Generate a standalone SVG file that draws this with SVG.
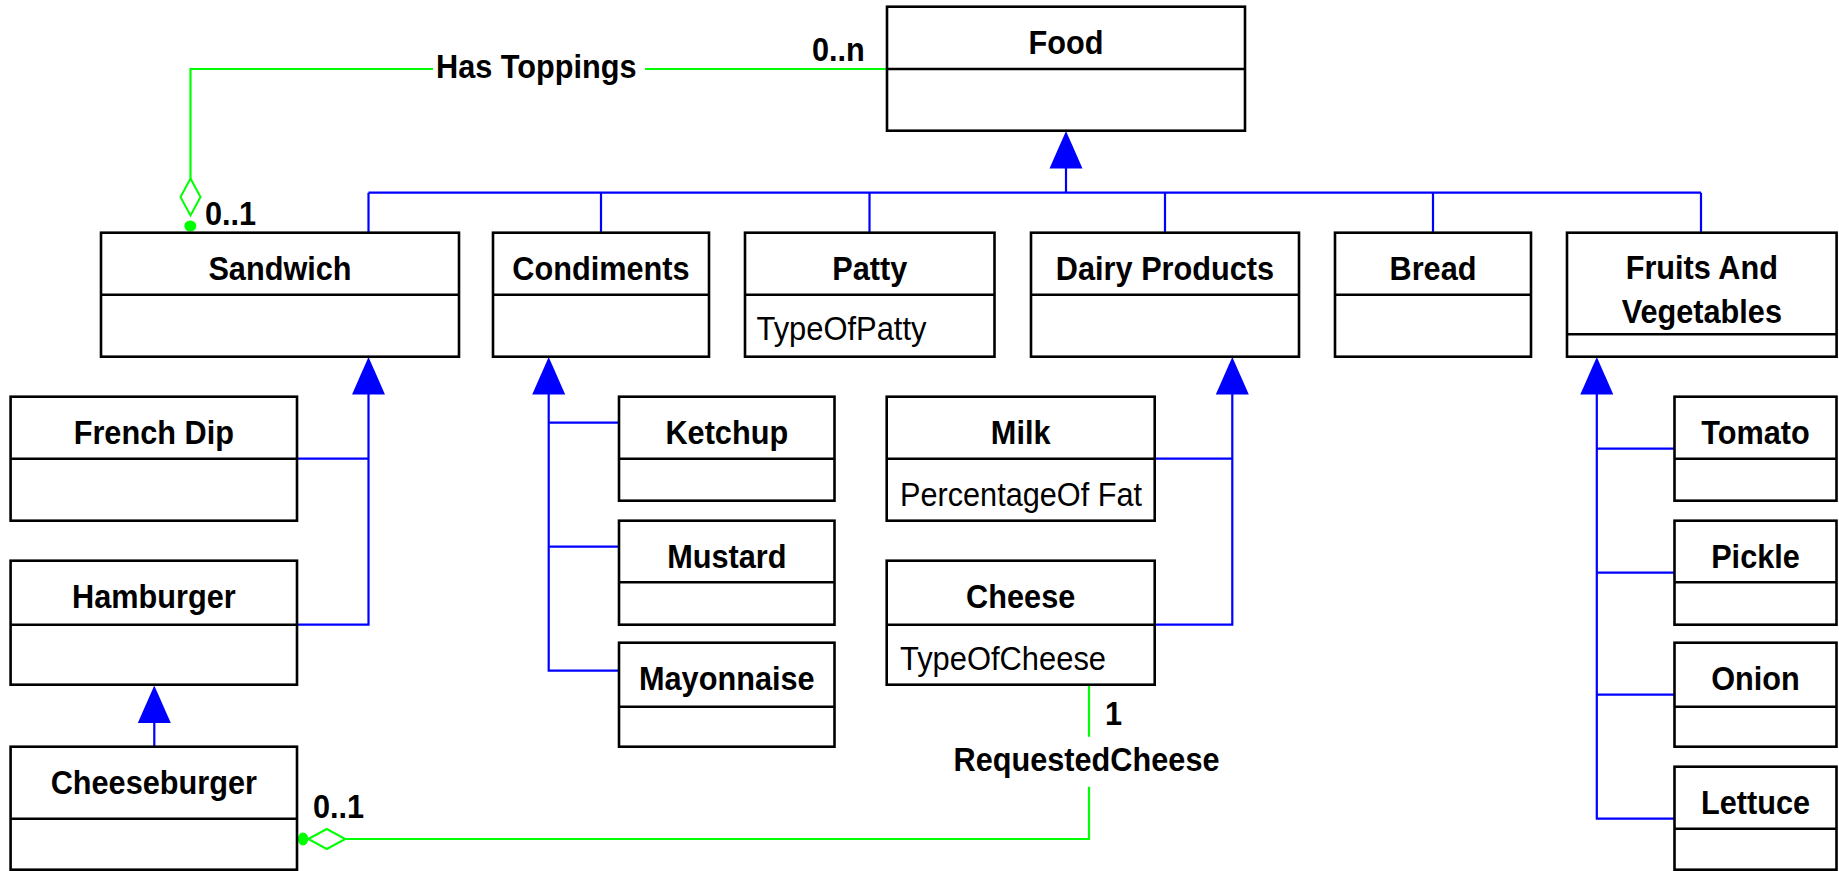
<svg xmlns="http://www.w3.org/2000/svg" xmlns:xlink="http://www.w3.org/1999/xlink" width="1839" height="871" viewBox="0 0 1839 871">
  <style>
    .box { fill: #ffffff; stroke: #000000; stroke-width: 2.6; }
    .sep { stroke: #000000; stroke-width: 2.6; }
    .gen { fill: none; stroke: #0000ff; stroke-width: 2.2; }
    .genhead { fill: #0000ff; stroke: none; }
    .assoc { fill: none; stroke: #00ff00; stroke-width: 2.2; }
    .diamond { fill: #ffffff; stroke: #00ff00; stroke-width: 2; }
    .dot { fill: #00ff00; stroke: none; }
    .t { font-family: "Liberation Sans", Arial, sans-serif; font-size: 33px; font-weight: bold; fill: #000000; text-anchor: middle; }
    .lbl { font-family: "Liberation Sans", Arial, sans-serif; font-size: 33px; font-weight: bold; fill: #000000; }
    .a { font-family: "Liberation Sans", Arial, sans-serif; font-size: 33px; fill: #000000; }
  </style>
  <defs>
    <!-- hollow-less generalization triangle, tip at origin pointing up -->
    <path id="tri" class="genhead" d="M0,0 L-16.5,37.5 L16.5,37.5 Z"/>
    <!-- aggregation diamond, tip at origin, body along +x -->
    <path id="dia" class="diamond" d="M0,0 L18.5,-10 L37,0 L18.5,10 Z"/>
  </defs>

  <!-- connectors -->
  <g id="connectors">
    <!-- Food generalization tree -->
    <use xlink:href="#tri" x="1066" y="131"/>
    <path class="gen" d="M1066,168 V192.7 M368.5,192.7 H1701 M368.5,192.7 V232.7 M601,192.7 V232.7 M869.5,192.7 V232.7 M1165,192.7 V232.7 M1433,192.7 V232.7 M1701,192.7 V232.7"/>

    <!-- Sandwich subclasses -->
    <use xlink:href="#tri" x="368.5" y="357"/>
    <path class="gen" d="M368.5,394 V624.7 H297 M368.5,458.7 H297"/>

    <!-- Hamburger -> Cheeseburger -->
    <use xlink:href="#tri" x="154.3" y="685.5"/>
    <path class="gen" d="M154.3,722 V746.7"/>

    <!-- Condiments subclasses -->
    <use xlink:href="#tri" x="548.7" y="357"/>
    <path class="gen" d="M548.7,394 V670.7 H619 M548.7,422.7 H619 M548.7,546.7 H619"/>

    <!-- Dairy Products subclasses -->
    <use xlink:href="#tri" x="1232.3" y="357"/>
    <path class="gen" d="M1232.3,394 V624.7 H1154.6 M1232.3,458.7 H1154.6"/>

    <!-- Fruits And Vegetables subclasses -->
    <use xlink:href="#tri" x="1596.8" y="357"/>
    <path class="gen" d="M1596.8,394 V818.7 H1674.5 M1596.8,448.7 H1674.5 M1596.8,572.7 H1674.5 M1596.8,694.7 H1674.5"/>

    <!-- Has Toppings association -->
    <path class="assoc" d="M190.5,178.5 V69 H433 M645,69 H887"/>
    <use xlink:href="#dia" transform="translate(190.5,178.5) rotate(90)"/>
    <ellipse class="dot" cx="190.3" cy="226" rx="6" ry="5.5"/>
    <text class="lbl" transform="translate(436,78) scale(0.93,1)">Has Toppings</text>
    <text class="lbl" transform="translate(812,61) scale(0.93,1)">0..n</text>
    <text class="lbl" transform="translate(205,224.5) scale(0.93,1)">0..1</text>

    <!-- RequestedCheese association -->
    <path class="assoc" d="M345,839 H1089 V786.7 M1089,736.7 V685"/>
    <use xlink:href="#dia" x="308.3" y="839"/>
    <ellipse class="dot" cx="303" cy="839" rx="5.3" ry="6.5"/>
    <text class="t" transform="translate(1086.5,771) scale(0.93,1)">RequestedCheese</text>
    <text class="lbl" transform="translate(1105,725) scale(0.93,1)">1</text>
    <text class="lbl" transform="translate(313,818.3) scale(0.93,1)">0..1</text>
  </g>

  <!-- top level -->
  <g id="food">
    <rect class="box" x="887" y="6.7" width="358" height="124"/>
    <line class="sep" x1="887" y1="69" x2="1245" y2="69"/>
    <text class="t" transform="translate(1066,54.3) scale(0.93,1)">Food</text>
  </g>

  <!-- Food subclasses -->
  <g id="sandwich">
    <rect class="box" x="101" y="232.7" width="358" height="124"/>
    <line class="sep" x1="101" y1="294.7" x2="459" y2="294.7"/>
    <text class="t" transform="translate(280,280) scale(0.93,1)">Sandwich</text>
  </g>
  <g id="condiments">
    <rect class="box" x="493" y="232.7" width="216" height="124"/>
    <line class="sep" x1="493" y1="294.7" x2="709" y2="294.7"/>
    <text class="t" transform="translate(601,280) scale(0.93,1)">Condiments</text>
  </g>
  <g id="patty">
    <rect class="box" x="745" y="232.7" width="249.5" height="124"/>
    <line class="sep" x1="745" y1="294.7" x2="994.5" y2="294.7"/>
    <text class="t" transform="translate(869.7,280) scale(0.93,1)">Patty</text>
    <text class="a" x="756.5" y="340" textLength="170" lengthAdjust="spacingAndGlyphs">TypeOfPatty</text>
  </g>
  <g id="dairy-products">
    <rect class="box" x="1031" y="232.7" width="268" height="124"/>
    <line class="sep" x1="1031" y1="294.7" x2="1299" y2="294.7"/>
    <text class="t" transform="translate(1165,280) scale(0.93,1)">Dairy Products</text>
  </g>
  <g id="bread">
    <rect class="box" x="1335" y="232.7" width="196" height="124"/>
    <line class="sep" x1="1335" y1="294.7" x2="1531" y2="294.7"/>
    <text class="t" transform="translate(1433,280) scale(0.93,1)">Bread</text>
  </g>
  <g id="fruits-and-vegetables">
    <rect class="box" x="1567" y="232.7" width="269.6" height="124"/>
    <line class="sep" x1="1567" y1="334.3" x2="1836.6" y2="334.3"/>
    <text class="t" transform="translate(1701.8,279.3) scale(0.93,1)">Fruits And</text>
    <text class="t" transform="translate(1701.8,323.3) scale(0.93,1)">Vegetables</text>
  </g>

  <!-- Sandwich subclasses -->
  <g id="french-dip">
    <rect class="box" x="10.6" y="396.7" width="286.4" height="124"/>
    <line class="sep" x1="10.6" y1="458.7" x2="297" y2="458.7"/>
    <text class="t" transform="translate(153.8,444) scale(0.93,1)">French Dip</text>
  </g>
  <g id="hamburger">
    <rect class="box" x="10.6" y="560.7" width="286.4" height="124"/>
    <line class="sep" x1="10.6" y1="624.7" x2="297" y2="624.7"/>
    <text class="t" transform="translate(153.8,608) scale(0.93,1)">Hamburger</text>
  </g>
  <g id="cheeseburger">
    <rect class="box" x="10.6" y="746.7" width="286.4" height="123"/>
    <line class="sep" x1="10.6" y1="818.7" x2="297" y2="818.7"/>
    <text class="t" transform="translate(153.8,794) scale(0.93,1)">Cheeseburger</text>
  </g>

  <!-- Condiments subclasses -->
  <g id="ketchup">
    <rect class="box" x="619" y="396.7" width="215.5" height="104"/>
    <line class="sep" x1="619" y1="458.7" x2="834.5" y2="458.7"/>
    <text class="t" transform="translate(726.8,444) scale(0.93,1)">Ketchup</text>
  </g>
  <g id="mustard">
    <rect class="box" x="619" y="520.7" width="215.5" height="104"/>
    <line class="sep" x1="619" y1="582.3" x2="834.5" y2="582.3"/>
    <text class="t" transform="translate(726.8,568) scale(0.93,1)">Mustard</text>
  </g>
  <g id="mayonnaise">
    <rect class="box" x="619" y="642.7" width="215.5" height="104"/>
    <line class="sep" x1="619" y1="706.7" x2="834.5" y2="706.7"/>
    <text class="t" transform="translate(726.8,690) scale(0.93,1)">Mayonnaise</text>
  </g>

  <!-- Dairy Products subclasses -->
  <g id="milk">
    <rect class="box" x="886.7" y="396.7" width="268" height="124"/>
    <line class="sep" x1="886.7" y1="458.7" x2="1154.7" y2="458.7"/>
    <text class="t" transform="translate(1020.7,444) scale(0.93,1)">Milk</text>
    <text class="a" x="900" y="506" textLength="242" lengthAdjust="spacingAndGlyphs">PercentageOf Fat</text>
  </g>
  <g id="cheese">
    <rect class="box" x="886.7" y="560.7" width="268" height="124"/>
    <line class="sep" x1="886.7" y1="624.7" x2="1154.7" y2="624.7"/>
    <text class="t" transform="translate(1020.7,608) scale(0.93,1)">Cheese</text>
    <text class="a" x="900" y="669.5" textLength="206" lengthAdjust="spacingAndGlyphs">TypeOfCheese</text>
  </g>

  <!-- Fruits And Vegetables subclasses -->
  <g id="tomato">
    <rect class="box" x="1674.5" y="396.7" width="162" height="104"/>
    <line class="sep" x1="1674.5" y1="458.7" x2="1836.5" y2="458.7"/>
    <text class="t" transform="translate(1755.5,444) scale(0.93,1)">Tomato</text>
  </g>
  <g id="pickle">
    <rect class="box" x="1674.5" y="520.7" width="162" height="104"/>
    <line class="sep" x1="1674.5" y1="582.3" x2="1836.5" y2="582.3"/>
    <text class="t" transform="translate(1755.5,568) scale(0.93,1)">Pickle</text>
  </g>
  <g id="onion">
    <rect class="box" x="1674.5" y="642.7" width="162" height="104"/>
    <line class="sep" x1="1674.5" y1="706.7" x2="1836.5" y2="706.7"/>
    <text class="t" transform="translate(1755.5,690) scale(0.93,1)">Onion</text>
  </g>
  <g id="lettuce">
    <rect class="box" x="1674.5" y="766.7" width="162" height="103"/>
    <line class="sep" x1="1674.5" y1="828.7" x2="1836.5" y2="828.7"/>
    <text class="t" transform="translate(1755.5,814) scale(0.93,1)">Lettuce</text>
  </g>
</svg>
